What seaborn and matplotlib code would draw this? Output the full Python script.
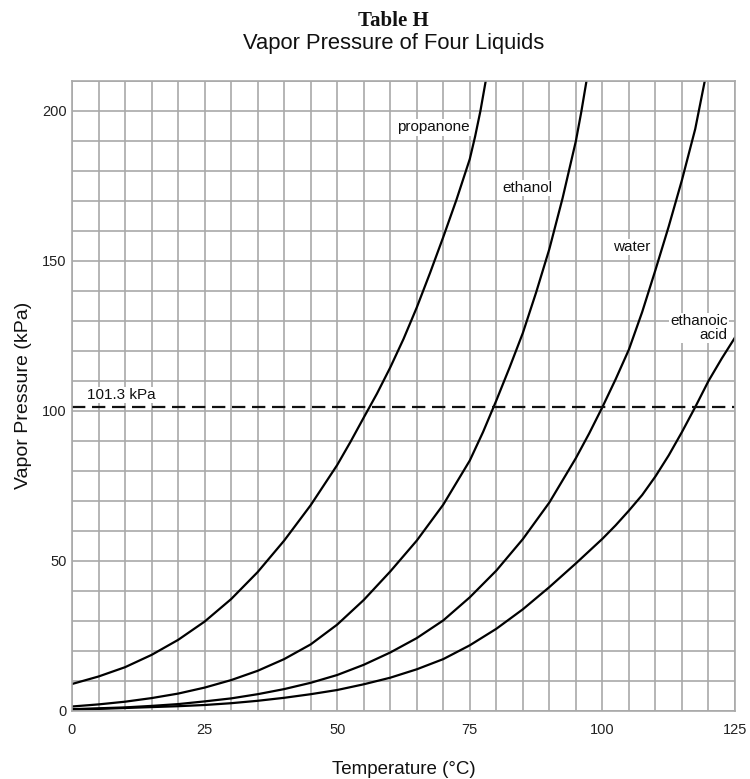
import matplotlib
matplotlib.use("Agg")
import matplotlib.pyplot as plt
from matplotlib.ticker import MultipleLocator
import seaborn as sns
import pandas as pd

# ---- data ----
propanone_t = [0, 5, 10, 15, 20, 25, 30, 35, 40, 45, 50, 52.5, 55, 57.5, 60, 62.5, 65,
               67.5, 70, 72.5, 75, 76, 77, 78]
propanone_p = [9.0, 11.5, 14.6, 18.7, 23.7, 29.8, 37.3, 46.3, 56.8, 68.6, 82.0, 89.7,
               97.8, 105.8, 114.5, 124, 134.5, 146, 158, 170.5, 184, 191.5, 200, 210]

ethanol_t = [0, 5, 10, 15, 20, 25, 30, 35, 40, 45, 50, 55, 60, 65, 70, 75, 77.5, 80,
             82.5, 85, 87.5, 90, 92.5, 95, 96, 97]
ethanol_p = [1.5, 2.2, 3.1, 4.3, 5.8, 7.8, 10.3, 13.4, 17.3, 22.2, 28.8, 37.0, 46.5,
             56.8, 68.8, 83.5, 93.0, 103.5, 114.5, 126, 139.5, 154, 171, 190, 199.5, 210]

water_t = [0, 5, 10, 15, 20, 25, 30, 35, 40, 45, 50, 55, 60, 65, 70, 75, 80, 85, 90,
           95, 97.5, 100, 102.5, 105, 107.5, 110, 112.5, 115, 117.5, 119.3]
water_p = [0.6, 0.9, 1.2, 1.7, 2.3, 3.2, 4.2, 5.6, 7.3, 9.4, 12.0, 15.4, 19.5, 24.3,
           30.2, 37.9, 46.8, 57.3, 69.5, 84.3, 92.5, 101.3, 110.6, 120.5, 133, 147,
           161.5, 177, 194, 210]

acid_t = [0, 5, 10, 15, 20, 25, 30, 35, 40, 45, 50, 55, 60, 65, 70, 75, 80, 85, 90,
          95, 100, 102.5, 105, 107.5, 110, 112.5, 115, 117.5, 120, 122.5, 125]
acid_p = [0.5, 0.7, 1.0, 1.3, 1.6, 2.0, 2.6, 3.4, 4.4, 5.6, 7.0, 8.9, 11.1, 13.9,
          17.3, 21.9, 27.4, 33.9, 41.3, 49.2, 57.4, 61.9, 66.8, 72.0, 78.2, 85.2,
          93.0, 101.3, 110.0, 117.5, 124.5]

liquids = ["propanone", "ethanol", "water", "ethanoic acid"]
boiling_ref = 101.3

x_ticks = [0, 25, 50, 75, 100, 125]
y_ticks = [0, 50, 100, 150, 200]

title_1 = "Table H"
title_2 = "Vapor Pressure of Four Liquids"
x_label = "Temperature (°C)"
y_label = "Vapor Pressure (kPa)"
ref_label = "101.3 kPa"

# ---- build table ----
frames = []
for name, t, p in zip(liquids, [propanone_t, ethanol_t, water_t, acid_t],
                      [propanone_p, ethanol_p, water_p, acid_p]):
    frames.append(pd.DataFrame({"T": t, "P": p, "liquid": name}))
df = pd.concat(frames, ignore_index=True)

sns.set_theme(style="white")
plt.rcParams["font.family"] = ["Liberation Sans", "DejaVu Sans"]

W, H = 750, 779
fig = plt.figure(figsize=(W / 100, H / 100), dpi=100)
ax = fig.add_axes([72 / W, 1 - 711 / H, 663 / W, 630 / H])

grid_c = "#a9a9a9"
ax.set_xlim(0, 125)
ax.set_ylim(0, 210)
ax.xaxis.set_major_locator(MultipleLocator(25))
ax.xaxis.set_minor_locator(MultipleLocator(5))
ax.yaxis.set_major_locator(MultipleLocator(50))
ax.yaxis.set_minor_locator(MultipleLocator(10))
ax.grid(True, which="both", color=grid_c, linewidth=1.2)
ax.set_axisbelow(True)
for s in ax.spines.values():
    s.set_color(grid_c)
    s.set_linewidth(1.2)
ax.tick_params(which="both", length=0, labelsize=10.5, labelcolor="#222222")
ax.tick_params(axis="x", pad=9)
ax.tick_params(axis="y", pad=4)
ax.set_xticks(x_ticks)
ax.set_yticks(y_ticks)

sns.lineplot(data=df, x="T", y="P", hue="liquid", units="liquid", estimator=None,
             palette={n: "black" for n in liquids}, legend=False, linewidth=1.6,
             sort=False, ax=ax)
ax.axhline(boiling_ref, color="#111111", linewidth=1.6, dashes=(6, 3))
ax.set_xlabel("")
ax.set_ylabel("")

box = dict(facecolor="white", edgecolor="none", pad=1.0)
fs = 11
ax.text(2.8, 105.3, ref_label, ha="left", va="center", fontsize=fs, color="#111", bbox=box)
ax.text(68.2, 194.5, "propanone", ha="center", va="center", fontsize=fs, color="#111", bbox=box)
ax.text(85.8, 174.3, "ethanol", ha="center", va="center", fontsize=fs, color="#111", bbox=box)
ax.text(105.6, 154.7, "water", ha="center", va="center", fontsize=fs, color="#111", bbox=box)
ax.text(123.6, 127.7, "ethanoic\nacid", ha="right", va="center", fontsize=fs,
        color="#111", linespacing=1.0, multialignment="right", bbox=box)

fig.text(393.5 / W, 1 - 21 / H, title_1, ha="center", va="center", fontsize=15,
         family=["Liberation Serif", "DejaVu Serif"], weight="bold", color="#111")
fig.text(393.5 / W, 1 - 43 / H, title_2, ha="center", va="center", fontsize=15.8,
         color="#111")
fig.text(404 / W, 1 - 769 / H, x_label, ha="center", va="center", fontsize=13.5, color="#111")
fig.text(24 / W, 1 - 395 / H, y_label, ha="center", va="center", rotation=90,
         fontsize=14, color="#111")

fig.savefig("out.png", dpi=100, facecolor="white")
